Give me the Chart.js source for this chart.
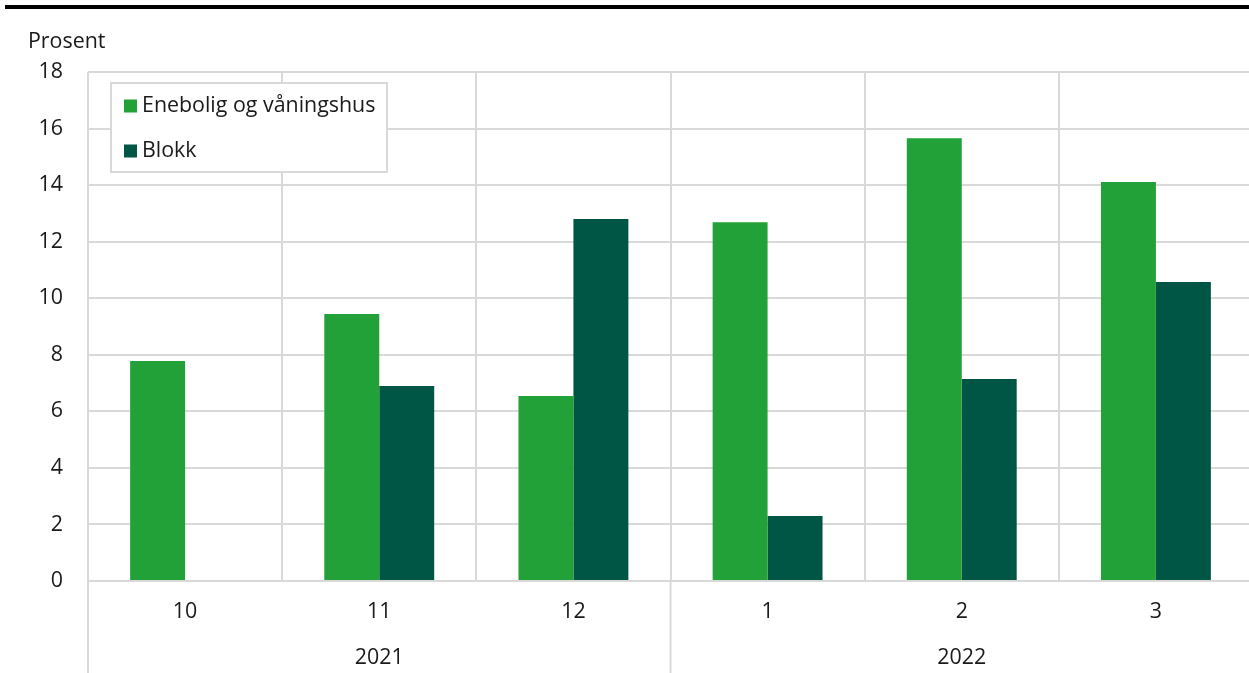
<!DOCTYPE html>
<html>
<head>
<meta charset="utf-8">
<script src="https://cdn.jsdelivr.net/npm/chart.js@4.4.0/dist/chart.umd.min.js"></script>
<style>
  html, body { margin: 0; padding: 0; background: #fff; overflow: hidden; }
  #wrap { width: 1249px; height: 673px; position: relative; overflow: hidden; }
</style>
</head>
<body>
<div id="wrap"><canvas id="boligChart" width="1253" height="673"></canvas></div>
<script>
const months = ['10', '11', '12', '1', '2', '3'];
const years = ['2021', '2021', '2021', '2022', '2022', '2022'];
const enebolig = [7.78, 9.44, 6.54, 12.69, 15.66, 14.11];
const blokk = [0, 6.9, 12.8, 2.3, 7.14, 10.57];
const yTicks = [0, 2, 4, 6, 8, 10, 12, 14, 16, 18];

const FONT = "'Open Sans', 'Noto Sans', sans-serif";
const FS = 21.4;
const GRID = '#d9d9d9';

// extra bits: top rule, unit label, year row, box legend
const extras = {
  id: 'extras',
  afterDatasetsDraw(chart) {
    const { ctx, chartArea, scales } = chart;
    const x = scales.x;
    ctx.save();
    // top black rule
    ctx.fillStyle = '#000';
    ctx.fillRect(5, 5, chart.width - 5, 4);
    // unit
    ctx.fillStyle = '#1a1a1a';
    ctx.font = FS + 'px ' + FONT;
    ctx.textAlign = 'left';
    ctx.textBaseline = 'middle';
    ctx.fillText('Prosent', 28, 42);

    // year group dividers + labels
    ctx.strokeStyle = GRID;
    ctx.lineWidth = 2;
    const groups = [];
    years.forEach((y, i) => {
      const g = groups[groups.length - 1];
      if (g && g.year === y) g.end = i; else groups.push({ year: y, start: i, end: i });
    });
    const half = (x.getPixelForValue(1) - x.getPixelForValue(0)) / 2;
    groups.forEach(g => {
      const left = x.getPixelForValue(g.start) - half;
      const right = x.getPixelForValue(g.end) + half;
      ctx.beginPath();
      ctx.moveTo(left, chartArea.bottom);
      ctx.lineTo(left, chart.height);
      ctx.stroke();
      ctx.textAlign = 'center';
      ctx.fillText(g.year, (left + right) / 2, 658);
    });

    // legend box
    const bx = 111, by = 83, bw = 276, bh = 89;
    ctx.fillStyle = '#fff';
    ctx.fillRect(bx, by, bw, bh);
    ctx.strokeRect(bx, by, bw, bh);
    chart.data.datasets.forEach((ds, i) => {
      const cy = 106 + i * 45;
      ctx.fillStyle = ds.backgroundColor;
      ctx.fillRect(124, cy - 6.5, 13, 13);
      ctx.fillStyle = '#1a1a1a';
      ctx.textAlign = 'left';
      ctx.fillText(ds.label, 142, cy);
    });
    ctx.restore();
  }
};

new Chart(document.getElementById('boligChart').getContext('2d'), {
  type: 'bar',
  data: {
    labels: months,
    datasets: [
      { label: 'Enebolig og våningshus', data: enebolig, backgroundColor: '#22a139' },
      { label: 'Blokk', data: blokk, backgroundColor: '#005644' }
    ]
  },
  options: {
    responsive: false,
    animation: false,
    layout: { padding: { top: 72, right: 0, left: 0, bottom: 0 } },
    categoryPercentage: 0.566,
    barPercentage: 1,
    plugins: {
      legend: { display: false },
      tooltip: { enabled: false }
    },
    scales: {
      x: {
        offset: true,
        grid: { offset: true, color: GRID, lineWidth: 2, drawTicks: false },
        border: { color: GRID, width: 2 },
        ticks: { color: '#1a1a1a', font: { family: FONT, size: FS }, padding: 18 },
        afterFit(s) { s.height = 92; }
      },
      y: {
        min: 0, max: 18,
        afterBuildTicks(s) { s.ticks = yTicks.map(v => ({ value: v })); },
        grid: { color: GRID, lineWidth: 2, drawTicks: false },
        border: { display: false },
        ticks: { color: '#1a1a1a', font: { family: FONT, size: FS }, padding: 25 },
        afterFit(s) { s.width = 88; }
      }
    }
  },
  plugins: [extras]
});
</script>
</body>
</html>
